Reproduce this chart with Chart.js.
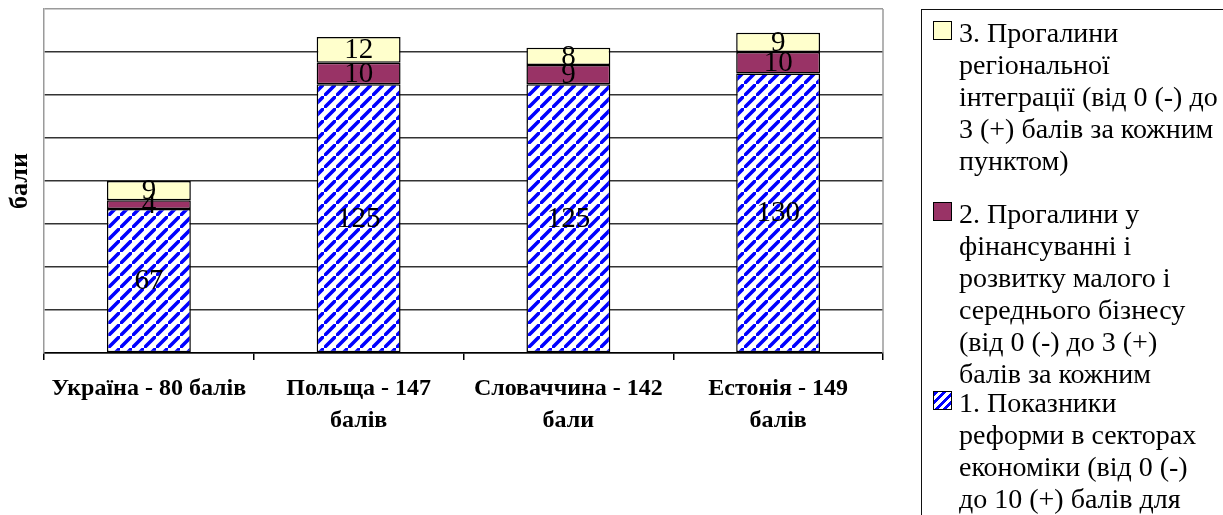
<!DOCTYPE html>
<html>
<head>
<meta charset="utf-8">
<script src="https://cdn.jsdelivr.net/npm/chart.js@4"></script>
<style>
  body { margin: 0; background: #fff; font-family: "Liberation Serif", serif; }
  #wrap { position: relative; width: 1223px; height: 515px; overflow: hidden; }
  #chart { position: absolute; left: 0; top: 0; }
  #legend {
    position: absolute; left: 921px; top: 9px; width: 320px; height: 540px;
    border: 1.5px solid #111; box-sizing: border-box; overflow: hidden;
  }
  .item { position: absolute; left: 0; width: 100%; overflow: hidden; }
  .swatch { position: absolute; left: 11px; width: 17px; height: 17px; border: 1.5px solid #000; }
  .text { position: absolute; left: 37px; white-space: nowrap; font-size: 28px; line-height: 32px; color: #000; }
</style>
</head>
<body>
<div id="wrap">
  <canvas id="chart" width="1223" height="515"></canvas>
  <div id="legend"></div>
</div>
<script>
// Дані з малюнка
const countries = [
    ['Україна - 80 балів'],
    ['Польща - 147', 'балів'],
    ['Словаччина - 142', 'бали'],
    ['Естонія - 149', 'балів']
];
const reformScores = [67, 125, 125, 130];
const financeGaps = [4, 10, 9, 10];
const integrationGaps = [9, 12, 8, 9];

const seriesNames = [
    '1. Показники реформи в секторах економіки (від 0 (-) до 10 (+) балів для',
    '2. Прогалини у фінансуванні і розвитку малого і середнього бізнесу (від 0 (-) до 3 (+) балів за кожним',
    '3. Прогалини регіональної інтеграції (від 0 (-) до 3 (+) балів за кожним пунктом)'
];
// розбивка рядків легенди як на оригіналі
const legendLines = [
    ['1. Показники', 'реформи в секторах', 'економіки (від 0 (-)', 'до 10 (+) балів для'],
    ['2. Прогалини у', 'фінансуванні і', 'розвитку малого і', 'середнього бізнесу', '(від 0 (-) до 3 (+)', 'балів за кожним', 'пунктом)'],
    ['3. Прогалини', 'регіональної', 'інтеграції (від 0 (-) до', '3 (+) балів за кожним', 'пунктом)']
];

/**
 * Штрихування для першої серії.
 */
function makeHatch() {
    const size = 12;
    const c = document.createElement('canvas');
    c.width = size; c.height = size;
    const g = c.getContext('2d');
    g.fillStyle = '#fff';
    g.fillRect(0, 0, size, size);
    g.strokeStyle = '#0000ff';
    g.lineWidth = 3.6;
    g.beginPath();
    g.moveTo(-size, size * 2); g.lineTo(size * 2, -size);
    g.moveTo(-size * 2, size); g.lineTo(size, -size * 2);
    g.moveTo(0, size * 3); g.lineTo(size * 3, 0);
    g.stroke();
    return document.getElementById('chart').getContext('2d').createPattern(c, 'repeat');
}

// Підписи значень по центру сегментів
const valueLabels = {
    id: 'valueLabels',
    afterDatasetsDraw(chart) {
        const ctx = chart.ctx;
        ctx.save();
        ctx.font = '29px "Liberation Serif"';
        ctx.fillStyle = '#000';
        ctx.textAlign = 'center';
        ctx.textBaseline = 'middle';
        chart.data.datasets.forEach((ds, i) => {
            chart.getDatasetMeta(i).data.forEach((bar, j) => {
                const y = (bar.y + bar.base) / 2;
                ctx.fillText(ds.data[j], bar.x, y + 1);
            });
        });
        ctx.restore();
    }
};

// Сіра рамка праворуч
const plotFrame = {
    id: 'plotFrame',
    beforeDatasetsDraw(chart) {
        const { ctx, chartArea } = chart;
        ctx.save();
        ctx.strokeStyle = '#9a9a9a';
        ctx.lineWidth = 1.5;
        ctx.beginPath();
        ctx.moveTo(chartArea.right, chartArea.top);
        ctx.lineTo(chartArea.right, chartArea.bottom);
        ctx.stroke();
        ctx.restore();
    }
};

const hatch = makeHatch();

new Chart(document.getElementById('chart'), {
    type: 'bar',
    data: {
        labels: countries,
        datasets: [
            { label: seriesNames[0], data: reformScores, backgroundColor: hatch },
            { label: seriesNames[1], data: financeGaps, backgroundColor: '#993366' },
            { label: seriesNames[2], data: integrationGaps, backgroundColor: '#ffffcc' }
        ]
    },
    options: {
        responsive: false,
        animation: false,
        devicePixelRatio: 1,
        layout: { padding: { left: 0, top: 9, right: 340, bottom: 0 } },
        datasets: {
            bar: {
                borderColor: '#000',
                borderWidth: 1.5,
                borderSkipped: false,
                barPercentage: 0.5,
                categoryPercentage: 0.8
            }
        },
        plugins: {
            legend: { display: false },
            tooltip: { enabled: false }
        },
        scales: {
            x: {
                stacked: true,
                afterFit(scale) { scale.height = 162; },
                grid: {
                    drawOnChartArea: false,
                    drawTicks: true,
                    tickLength: 7,
                    color: '#000',
                    lineWidth: 1.5
                },
                border: { color: '#000', width: 1.5 },
                ticks: {
                    color: '#000',
                    padding: 13,
                    maxRotation: 0,
                    font: { family: 'Liberation Serif', size: 24, weight: 'bold', lineHeight: '32px' }
                }
            },
            y: {
                stacked: true,
                min: 0,
                max: 160,
                afterFit(scale) { scale.width = 44; },
                ticks: { display: false, stepSize: 20 },
                grid: {
                    drawTicks: false,
                    color: ctx => ctx.tick.value === 160 ? '#9a9a9a' : '#333',
                    lineWidth: 1.5
                },
                border: { color: '#9a9a9a', width: 1.5 },
                title: {
                    display: true,
                    text: 'бали',
                    color: '#000',
                    padding: { top: 5, bottom: 0 },
                    font: { family: 'Liberation Serif', size: 26, weight: 'bold' }
                }
            }
        }
    },
    plugins: [valueLabels, plotFrame]
});

// Легенда (у зворотному порядку, як в Excel)
const legend = document.getElementById('legend');
const legendSwatches = ['hatch', '#993366', '#ffffcc'];
const legendTops = [377, 188, 7];      // верх блоку кожного пункту
const legendHeights = [200, 192, 170];
[2, 1, 0].forEach(i => {
    const item = document.createElement('div');
    item.className = 'item';
    item.style.top = legendTops[i] + 'px';
    item.style.height = legendHeights[i] + 'px';
    const sw = document.createElement('div');
    sw.className = 'swatch';
    sw.style.top = '4px';
    if (legendSwatches[i] === 'hatch') {
        sw.style.background = 'repeating-linear-gradient(-45deg, #fff 0 3px, #0000ff 3px 6px)';
    } else {
        sw.style.background = legendSwatches[i];
    }
    const txt = document.createElement('div');
    txt.className = 'text';
    txt.style.top = '0px';
    txt.innerHTML = legendLines[i].join('<br>');
    item.appendChild(sw);
    item.appendChild(txt);
    legend.appendChild(item);
});
</script>
</body>
</html>
